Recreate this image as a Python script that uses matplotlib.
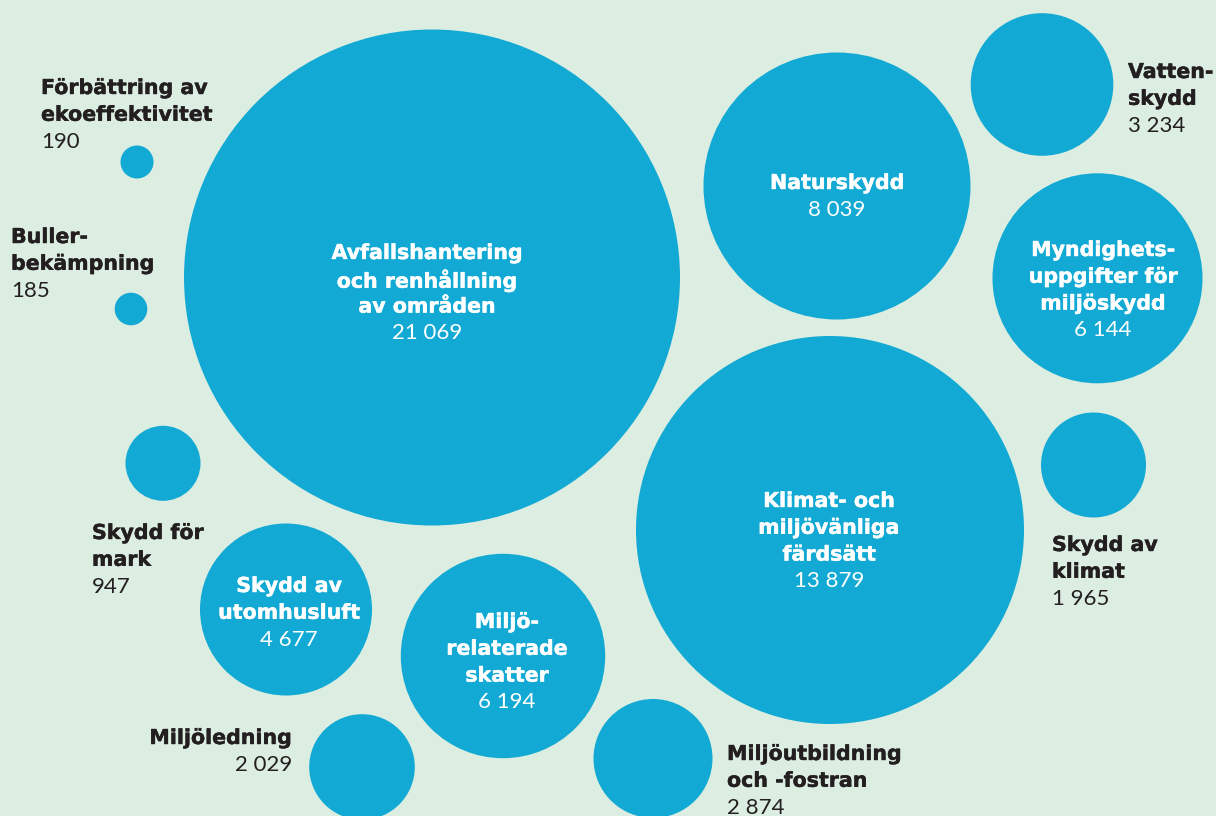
"""
Bubble chart: environmental protection expenditure by purpose (MSEK).
Saved as out.png.
"""
import matplotlib.pyplot as plt
import matplotlib.patheffects as pe
from matplotlib.patches import Circle

# data
labels = [
    "Förbättring av\nekoeffektivitet",
    "Buller-\nbekämpning",
    "Avfallshantering\noch renhållning\nav områden",
    "Naturskydd",
    "Vatten-\nskydd",
    "Myndighets-\nuppgifter för\nmiljöskydd",
    "Skydd för\nmark",
    "Skydd av\nutomhusluft",
    "Klimat- och\nmiljövänliga\nfärdsätt",
    "Skydd av\nklimat",
    "Miljö-\nrelaterade\nskatter",
    "Miljöledning",
    "Miljöutbildning\noch -fostran",
]
values = [190, 185, 21069, 8039, 3234, 6144, 947, 4677, 13879, 1965, 6194, 2029, 2874]

# layout (pixel units of the 1216x816 canvas): bubble centre, radius,
# label anchor, first-line y, alignment, label inside bubble?
layout = [
    (137, 162, 16.5, 41, 88, "left", False),
    (131, 309, 16.3, 11, 237, "left", False),
    (432, 277.5, 248, 427, 253, "center", True),
    (837, 186, 133.5, 837, 183, "center", True),
    (1042, 84.5, 71.3, 1128, 72, "left", False),
    (1097.5, 278.3, 105, 1103, 250, "center", True),
    (163, 463.3, 37.5, 92, 533, "left", False),
    (286, 609.5, 86, 289, 586, "center", True),
    (830, 530, 194, 829, 501, "center", True),
    (1093.5, 465, 52.5, 1052, 545, "left", False),
    (503, 656, 102.2, 507, 622, "center", True),
    (362, 767, 52.8, 292, 738, "right", False),
    (653, 758.5, 59.5, 727, 754, "left", False),
]

BG = "#dcede1"
BUBBLE = "#12aad4"
DARK = "#231f20"
STEP = 26.8

W, H = 1216, 816
fig = plt.figure(figsize=(W / 100, H / 100), dpi=100, facecolor=BG)
ax = fig.add_axes([0, 0, 1, 1])
ax.set_xlim(0, W)
ax.set_ylim(H, 0)
ax.set_aspect("equal")
ax.axis("off")
ax.set_facecolor(BG)

for label, value, (cx, cy, r, tx, ty, ha, inside) in zip(labels, values, layout):
    ax.add_patch(Circle((cx, cy), r, color=BUBBLE, lw=0))
    color = "white" if inside else DARK
    # thin stroke to thicken the bold face a little
    heavy = [pe.withStroke(linewidth=0.3, foreground=color)]
    lines = label.split("\n")
    for i, line in enumerate(lines):
        ax.text(tx, ty + i * STEP, line, ha=ha, va="center", color=color,
                fontsize=14.8, fontweight="bold", family="DejaVu Sans",
                path_effects=heavy)
    ax.text(tx, ty + len(lines) * STEP, f"{value:,}".replace(",", " "),
            ha=ha, va="center", color=color, fontsize=16, family="Lato")

fig.savefig("out.png", dpi=100, facecolor=BG)
